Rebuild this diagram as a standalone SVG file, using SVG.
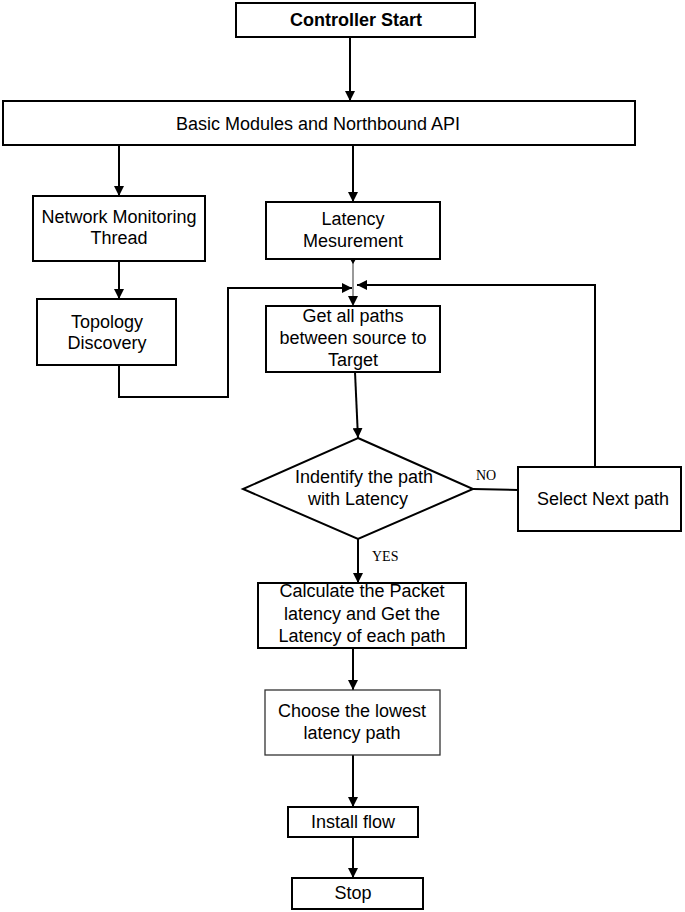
<svg xmlns="http://www.w3.org/2000/svg" width="685" height="912" viewBox="0 0 685 912">
<style>
.box{fill:#fff;stroke:#000;stroke-width:2}
.thin{fill:#fff;stroke:#333;stroke-width:1.3}
.t{font-family:"Liberation Sans",Arial,sans-serif;font-size:18px;fill:#000;text-anchor:middle}
.b{font-weight:bold}
.lbl{font-family:"Liberation Serif","Times New Roman",serif;font-size:14px;fill:#000}
.c{fill:none;stroke:#000;stroke-width:2}
.g{fill:none;stroke:#777;stroke-width:1.5}
</style>
<defs>
<marker id="ah" viewBox="0 0 10 10" refX="10" refY="5" markerWidth="10" markerHeight="10" markerUnits="userSpaceOnUse" orient="auto">
<path d="M0,0 L10,5 L0,10 Z" fill="#000"/>
</marker>
</defs>
<g id="connectors">
<line class="c" x1="350" y1="37" x2="350" y2="101" marker-end="url(#ah)"/>
<line class="c" x1="119" y1="145" x2="119" y2="196" marker-end="url(#ah)"/>
<line class="c" x1="353" y1="145" x2="353" y2="202" marker-end="url(#ah)"/>
<line class="c" x1="119" y1="261" x2="119" y2="299" marker-end="url(#ah)"/>
<line class="g" x1="353" y1="259" x2="353" y2="306" marker-end="url(#ah)"/>
<path d="M350,259 L356,259 L353,264 Z" fill="#000"/>
<polyline class="c" points="119,365 119,397 228,397 228,288 352,288" marker-end="url(#ah)"/>
<polyline class="c" points="595,467 595,285 357,285" marker-end="url(#ah)"/>
<line class="c" x1="355" y1="372" x2="358" y2="438" marker-end="url(#ah)"/>
<line class="c" x1="473" y1="489" x2="518" y2="490"/>
<line class="c" x1="358" y1="539" x2="358" y2="583" marker-end="url(#ah)"/>
<line class="c" x1="353" y1="648" x2="353" y2="690" marker-end="url(#ah)"/>
<line class="c" x1="353" y1="755" x2="353" y2="807" marker-end="url(#ah)"/>
<line class="c" x1="353" y1="837" x2="353" y2="878" marker-end="url(#ah)"/>
<text class="lbl" x="476" y="480">NO</text>
<text class="lbl" x="372" y="561">YES</text>
</g>
<g id="start">
<rect class="box" x="236" y="3" width="239" height="34"/>
<text class="t b" x="356" y="26">Controller Start</text>
</g>
<g id="api">
<rect class="box" x="3" y="101" width="632" height="44"/>
<text class="t" x="318" y="130">Basic Modules and Northbound API</text>
</g>
<g id="nmt">
<rect class="box" x="33" y="196" width="172" height="65"/>
<text class="t" x="119" y="223">Network Monitoring</text>
<text class="t" x="119" y="244">Thread</text>
</g>
<g id="topology">
<rect class="box" x="37" y="299" width="139" height="66"/>
<text class="t" x="107" y="328">Topology</text>
<text class="t" x="107" y="349">Discovery</text>
</g>
<g id="latency">
<rect class="box" x="266" y="202" width="174" height="57"/>
<text class="t" x="353" y="225">Latency</text>
<text class="t" x="353" y="247">Mesurement</text>
</g>
<g id="getpaths">
<rect class="box" x="266" y="306" width="174" height="66"/>
<text class="t" x="353" y="322">Get all paths</text>
<text class="t" x="353" y="344">between source to</text>
<text class="t" x="353" y="366">Target</text>
</g>
<g id="decision">
<polygon class="box" points="358,438 473,489 358,539 243,489"/>
<text class="t" x="364" y="483">Indentify the path</text>
<text class="t" x="358" y="505">with Latency</text>
</g>
<g id="selectnext">
<rect class="box" x="518" y="467" width="163" height="64"/>
<text class="t" x="603" y="505">Select Next path</text>
</g>
<g id="calculate">
<rect class="box" x="258" y="583" width="208" height="65"/>
<text class="t" x="362" y="597">Calculate the Packet</text>
<text class="t" x="362" y="620">latency and Get the</text>
<text class="t" x="362" y="642">Latency of each path</text>
</g>
<g id="choose">
<rect class="thin" x="265" y="690" width="175" height="65"/>
<text class="t" x="352" y="717">Choose the lowest</text>
<text class="t" x="352" y="739">latency path</text>
</g>
<g id="install">
<rect class="box" x="288" y="807" width="130" height="30"/>
<text class="t" x="353" y="828">Install flow</text>
</g>
<g id="stop">
<rect class="box" x="292" y="878" width="131" height="31"/>
<text class="t" x="353" y="899">Stop</text>
</g>
</svg>
